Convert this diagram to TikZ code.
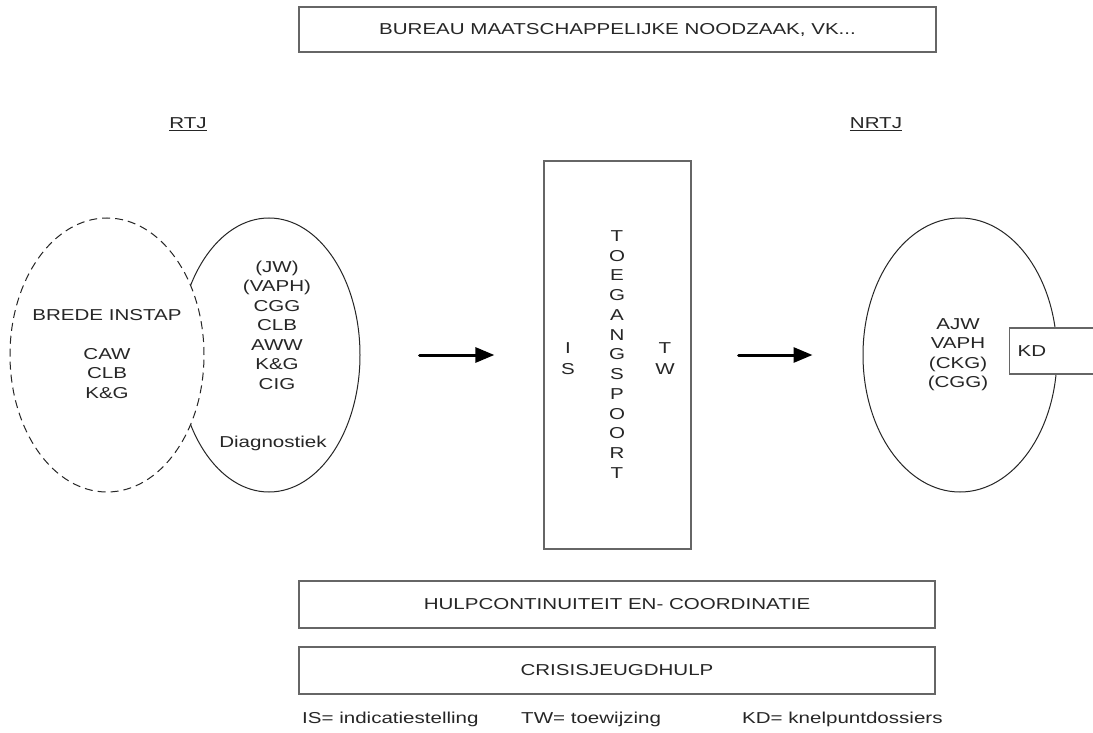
\documentclass[tikz,border=0pt]{standalone}
\usepackage{fontspec}
\setmainfont{Liberation Sans}[FakeStretch=1.3]
\usetikzlibrary{arrows.meta,shapes.geometric}
\tikzset{
  txt/.style={font=\fontsize{15.8}{19.5}\selectfont, text=black!85, align=center, inner sep=0pt},
  bar/.style={txt, draw=black!60, line width=1.3pt, fill=white},
  ell/.style={ellipse, draw=black!85, line width=1pt, inner sep=0pt},
  arr/.style={line width=3pt, line cap=round, -{Triangle[length=19pt,width=15pt]}},
}
\begin{document}
\begin{tikzpicture}[x=1pt,y=-1pt]
\useasboundingbox[fill=white] (0,0) rectangle (1093,733);
% top box
\node[bar, minimum width=637pt, minimum height=45pt] (bureau) at (617.5,29.5) {BUREAU MAATSCHAPPELIJKE NOODZAAK, VK...};
% headings
\node[txt] (rtj) at (188,124) {\underline{RTJ}};
\node[txt] (nrtj) at (876,124) {\underline{NRTJ}};
% left ellipses
\node[ell, minimum width=182pt, minimum height=274pt] (diag) at (269,355) {};
\node[ell, dashed, dash pattern=on 8pt off 5pt, fill=white, minimum width=194pt, minimum height=274pt] (brede) at (107,355) {};
\node[txt] (bredetxt) at (107,354) {BREDE INSTAP\\[19.5pt]CAW\\CLB\\K\&G};
\node[txt] (diagtxt) at (277,325) {(JW)\\(VAPH)\\CGG\\CLB\\AWW\\K\&G\\CIG};
\node[txt] (diaglbl) at (273,443) {Diagnostiek};
% gate
\node[bar, minimum width=147pt, minimum height=388pt] (gate) at (617.5,355) {};
\node[txt, font=\fontsize{15.8}{19.75}\selectfont] (word) at (617,354.5) {T\\O\\E\\G\\A\\N\\G\\S\\P\\O\\O\\R\\T};
\node[txt, font=\fontsize{15.8}{20.7}\selectfont] (is) at (568,358.5) {I\\S};
\node[txt, font=\fontsize{15.8}{20.7}\selectfont] (tw) at (665,358.5) {T\\W};
% right ellipse
\node[ell, minimum width=194pt, minimum height=274pt] (nrtjell) at (960,355) {};
\node[txt] (nrtjtxt) at (958,354.5) {AJW\\VAPH\\(CKG)\\(CGG)};
\node[bar, anchor=west, minimum width=101pt, minimum height=46pt, text width=85pt, inner xsep=8pt, align=left] (kd) at (1009,351) {KD};
% arrows
\draw[arr, shorten <=59pt, shorten >=49pt] (diag.east) -- (gate.west);
\draw[arr, shorten <=47pt, shorten >=50pt] (gate.east) -- (nrtjell.west);
% bottom boxes
\node[bar, minimum width=636pt, minimum height=47pt] (hulp) at (617,604.5) {HULPCONTINUITEIT EN- COORDINATIE};
\node[bar, minimum width=636pt, minimum height=47pt] (crisis) at (617,670.5) {CRISISJEUGDHULP};
% legend
\node[txt, anchor=west] (lis) at (302,719) {IS= indicatiestelling};
\node[txt, anchor=west] (ltw) at (521,719) {TW= toewijzing};
\node[txt, anchor=west] (lkd) at (742,719) {KD= knelpuntdossiers};
\end{tikzpicture}
\end{document}
